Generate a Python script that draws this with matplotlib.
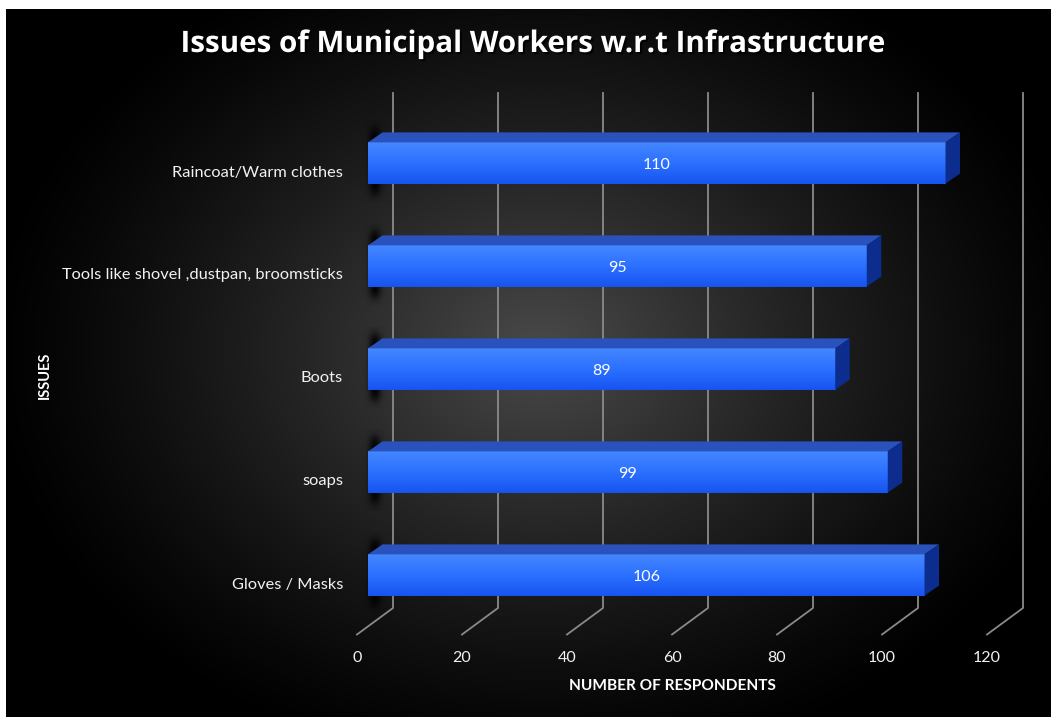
import numpy as np
import matplotlib
matplotlib.use("Agg")
import matplotlib.pyplot as plt
from matplotlib.patches import Polygon
from matplotlib.transforms import IdentityTransform, ScaledTranslation
import matplotlib.patheffects as pe

# ---------------- data ----------------
categories = ["Gloves / Masks", "soaps", "Boots",
              "Tools like shovel ,dustpan, broomsticks", "Raincoat/Warm clothes"]
values = [106, 99, 89, 95, 110]
x_ticks = [0, 20, 40, 60, 80, 100, 120]
title = "Issues of Municipal Workers w.r.t Infrastructure"
x_label = "NUMBER OF RESPONDENTS"
y_label = "ISSUES"

W, H, DPI = 1051, 717, 100
fig = plt.figure(figsize=(W / DPI, H / DPI), dpi=DPI)
fig.patch.set_facecolor("white")

# ---------------- background (radial gradient) ----------------
bg = fig.add_axes([0, 0, 1, 1], zorder=0)
bg.set_xlim(0, W)
bg.set_ylim(H, 0)
bg.axis("off")
yy, xx = np.mgrid[9:H, 6:W]
r = np.sqrt(((xx - 540) / 560.0) ** 2 + ((yy - 350) / 430.0) ** 2)
val = 0.29 * np.clip(1 - r, 0, 1) ** 1.25
bg.imshow(np.dstack([val, val, val]), extent=[6, W, H, 9], aspect="auto",
          interpolation="bilinear")
bg.set_xlim(0, W)
bg.set_ylim(H, 0)

# ---------------- main axes ----------------
ax = fig.add_axes([368 / W, (H - 633) / H, 630 / W, 540 / H], zorder=1)
ylo, yhi = (575 - 633) / 103.0, (575 - 93) / 103.0
ax.set_xlim(0, 120)
ax.set_ylim(ylo, yhi)
ax.patch.set_alpha(0)
for s in ax.spines.values():
    s.set_visible(False)

ypos = np.arange(len(categories))
bh = 0.40
DX, DY = 14.5, 10.0   # depth offset in pixels


def D(x, y, dx=0.0, dy=0.0):
    p = ax.transData.transform((x, y))
    return (p[0] + dx, p[1] + dy)


ident = IdentityTransform()

# gridlines (back wall + floor diagonals)
ygrid_bottom = (575 - 608) / 103.0
for v in x_ticks:
    pts = [D(v, yhi, 25, 0), D(v, ygrid_bottom, 25, 0), D(v, ylo, -11, -1.5)]
    xs, ys = zip(*pts)
    ax.plot(xs, ys, color="#8a8a8a", lw=1.3, transform=ident, clip_on=False, zorder=1)

inv = ax.transData.inverted()

# shadows behind the bars
for y, v in zip(ypos, values):
    x0, ytop = D(0, y + bh / 2)
    _, ybot = D(0, y - bh / 2)
    gx = np.linspace(-8, 20, 60)
    gy = np.linspace(ybot - 18, ytop + 22, 120)
    GX, GY = np.meshgrid(gx, gy)
    ax_prof = np.exp(-((GX - 7) / 6.0) ** 2)
    yc = (ytop + ybot) / 2 + 2
    half = (ytop - ybot) / 2 + 12
    ay_prof = 1 / (1 + np.exp((np.abs(GY - yc) - half) / 3.0))
    alpha = 0.95 * ax_prof * ay_prof
    rgba = np.zeros(alpha.shape + (4,))
    rgba[..., 3] = alpha
    (l, b) = inv.transform((x0 - 8, ybot - 18))
    (rr, t) = inv.transform((x0 + 20, ytop + 22))
    ax.imshow(rgba, extent=[l, rr, b, t], origin="lower", aspect="auto",
              interpolation="bilinear", zorder=2, clip_on=False)

# front faces
bars = ax.barh(ypos, values, height=bh, left=0, color="#2a6af8", zorder=4,
               edgecolor="none")
grad = np.linspace(0, 1, 64).reshape(-1, 1)
c_top = np.array([0.27, 0.53, 1.00])
c_mid = np.array([0.17, 0.44, 1.00])
c_bot = np.array([0.09, 0.33, 0.94])
cols = np.where(grad < 0.5,
                c_top + (c_mid - c_top) * (grad / 0.5),
                c_mid + (c_bot - c_mid) * ((grad - 0.5) / 0.5))
gimg = cols.reshape(64, 1, 3)
for bar, y, v in zip(bars, ypos, values):
    im = ax.imshow(gimg, extent=[0, v, y - bh / 2, y + bh / 2], aspect="auto",
                   interpolation="bilinear", zorder=5, origin="upper")
    im.set_clip_path(bar)

# top and side faces
for y, v in zip(ypos, values):
    top = [D(0, y + bh / 2), D(v, y + bh / 2), D(v, y + bh / 2, DX, DY), D(0, y + bh / 2, DX, DY)]
    side = [D(v, y - bh / 2), D(v, y + bh / 2), D(v, y + bh / 2, DX, DY), D(v, y - bh / 2, DX, DY)]
    ax.add_patch(Polygon(top, closed=True, facecolor="#2a52bd", edgecolor="none",
                         transform=ident, zorder=5, clip_on=False))
    ax.add_patch(Polygon(side, closed=True, facecolor="#0c2c8e", edgecolor="none",
                         transform=ident, zorder=5, clip_on=False))
    t = ax.text(v / 2, y, str(v), ha="center", va="center", color="white",
                fontsize=11.5, family="Lato", zorder=6)
    t.set_transform(t.get_transform() + ScaledTranslation(0, -2 / DPI, fig.dpi_scale_trans))

ax.set_xlim(0, 120)
ax.set_ylim(ylo, yhi)

# ticks
ax.set_yticks(ypos)
ax.set_yticklabels(categories, family="Lato", fontsize=11.8, color="#f2f2f2")
ax.tick_params(axis="y", length=0, pad=18)
yoff = ScaledTranslation(0, -8 / DPI, fig.dpi_scale_trans)
for lab in ax.get_yticklabels():
    lab.set_transform(lab.get_transform() + yoff)
ax.set_xticks(x_ticks)
ax.set_xticklabels([str(t) for t in x_ticks], family="Lato", fontsize=11.5, color="#f2f2f2")
ax.tick_params(axis="x", length=0, pad=13)
off = ScaledTranslation(-11 / DPI, 0, fig.dpi_scale_trans)
for lab in ax.get_xticklabels():
    lab.set_transform(lab.get_transform() + off)

# titles
fig.text(534 / W, 1 - 44 / H, title, ha="center", va="center", color="white",
         fontsize=21.3, fontweight="bold", family="Open Sans",
         path_effects=[pe.withSimplePatchShadow(offset=(1.5, -1.5), shadow_rgbFace="black", alpha=0.8)])
fig.text(672 / W, 1 - 686 / H, x_label, ha="center", va="center", color="white",
         fontsize=11.1, fontweight="bold", family="Lato")
fig.text(45 / W, 1 - 375 / H, y_label, ha="center", va="center", color="white",
         fontsize=10.5, fontweight="bold", family="Lato", rotation=90)

fig.savefig("out.png", dpi=DPI, facecolor=fig.get_facecolor())
